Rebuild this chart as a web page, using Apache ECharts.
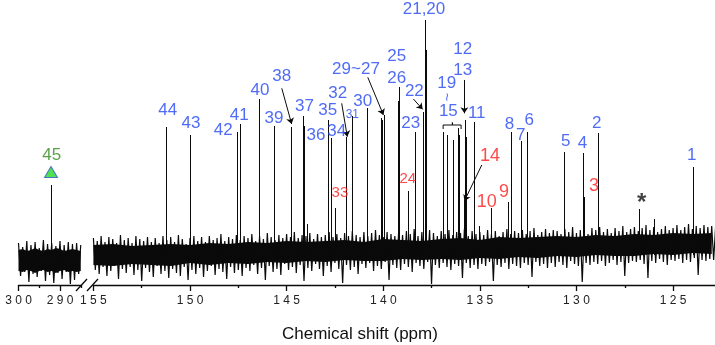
<!DOCTYPE html>
<html>
<head>
<meta charset="utf-8">
<script src="https://cdn.jsdelivr.net/npm/echarts@6/dist/echarts.min.js"></script>
<style>
html, body { margin: 0; padding: 0; background: #fff; }
#chart { width: 715px; height: 345px; }
</style>
</head>
<body>
<div id="chart"></div>
<script>
// peak positions (ppm) and peak heights (arbitrary intensity)
const peakShift = [151.21, 150.00, 147.58, 147.41, 146.43, 145.65, 144.74, 144.14, 144.07, 143.91,
  142.87, 142.67, 142.49, 141.89, 141.60, 140.85, 140.11, 140.04, 139.97, 139.22,
  139.18, 138.73, 138.32, 137.92, 137.82, 137.79, 136.89, 136.71, 136.37, 136.14,
  136.06, 135.80, 135.73, 135.68, 135.28, 135.04, 134.42, 133.52, 133.38, 132.88,
  132.57, 130.63, 129.64, 129.59, 128.87, 126.74, 125.98, 123.98];
const peakTop = [158, 150, 153, 161, 186, 159, 158, 169, 159, 61,
  165, 147, 77, 148, 169, 177, 167, 165, 170, 184,
  198, 94, 153, 173, 265, 235, 153, 150, 145, 157,
  150, 85, 165, 148, 163, 59, 77, 83, 153, 144,
  153, 133, 132, 88, 152, 76, 66, 118];
const peakBase = 30;

// carbonyl region (left panel)
const highShift = [292.17];
const highTop = [100];

// baseline noise, left panel: 300 -> 285 ppm every 0.5 ppm
const noiseHighStart = 300, noiseHighStep = 0.5;
const noiseHigh = [42, 9, 38, 13, 44, 3, 40, 11, 43, 8, 37, 14, 45, 4, 41, 10, 42, 2, 39, 12,
  44, 6, 40, 13, 43, 1, 41, 5, 42, 11, 40];
// dense core of the noise band, left panel: 300 -> 285 ppm every 1 ppm
const coreHighHi = [35, 36, 34, 35, 37, 35, 34, 36, 35, 37, 36, 34, 35, 36, 35, 34];
const coreHighLo = [14, 13, 15, 14, 12, 14, 15, 13, 14, 12, 14, 15, 13, 14, 13, 14];

// baseline noise, right panel: 155 -> 122.8 ppm every 0.1 ppm
const noiseLowStart = 155, noiseLowStep = 0.1;
const noiseLow = [
  47, 15, 44, 11, 49, 18, 43, 9, 48, 14, 46, 19, 42, 6, 50, 16, 45, 12, 47, 18,
  42, 10, 49, 15, 46, 4, 44, 17, 48, 13, 43, 8, 47, 19, 42, 11, 49, 14, 45, 7,
  48, 16, 43, 12, 50, 9, 46, 18, 41, 5, 47, 15, 49, 11, 44, 17, 48, 8, 43, 14,
  49, 19, 45, 10, 47, 16, 51, 13, 44, 6, 48, 18, 46, 12, 50, 15, 45, 9, 49, 17,
  47, 14, 51, 20, 44, 11, 49, 17, 46, 5, 52, 19, 48, 13, 45, 16, 50, 10, 47, 21,
  51, 15, 48, 18, 53, 12, 47, 20, 50, 4, 49, 17, 52, 14, 46, 21, 51, 16, 48, 9,
  50, 19, 53, 13, 48, 22, 51, 16, 47, 2, 52, 20, 49, 15, 54, 18, 50, 11, 48, 21,
  53, 17, 49, 22, 52, 14, 55, 19, 50, 16, 48, 23, 53, 5, 51, 20, 49, 17, 54, 15,
  50, 21, 54, 18, 51, 13, 56, 22, 49, 19, 53, 16, 50, 23, 55, 1, 52, 20, 49, 17,
  54, 22, 51, 18, 55, 15, 50, 21, 53, 19, 52, 7, 56, 22, 49, 17, 54, 20, 51, 16,
  53, 21, 50, 19, 55, 23, 51, 4, 54, 20, 49, 18, 53, 22, 56, 16, 51, 21, 54, 19,
  52, 17, 55, 22, 51, 20, 54, 8, 57, 23, 50, 19, 53, 21, 56, 17, 52, 22, 55, 18,
  54, 23, 51, 20, 56, 17, 53, 24, 58, 21, 52, 19, 55, 3, 54, 22, 51, 20, 57, 23,
  55, 21, 58, 24, 53, 19, 56, 22, 52, 25, 57, 20, 54, 23, 59, 9, 53, 22, 56, 24,
  58, 23, 54, 25, 57, 21, 60, 7, 55, 24, 58, 22, 53, 26, 56, 23, 59, 20, 55, 25,
  57, 24, 60, 26, 55, 22, 58, 25, 61, 23, 56, 27, 59, 10, 57, 25, 60, 24, 58, 26,
  59, 25, 58];
// dense core of the noise band, right panel: 155 -> 123 ppm every 1 ppm
const coreLowHi = [40, 41, 39, 40, 41, 40, 42, 41, 43, 42, 44, 43, 44, 45, 43, 46, 45, 44, 46, 47,
  45, 48, 47, 48, 49, 48, 50, 49, 51, 50, 52, 51, 52];
const coreLowLo = [20, 19, 21, 20, 19, 22, 20, 22, 21, 23, 22, 24, 23, 25, 24, 24, 26, 25, 26, 25,
  27, 26, 28, 27, 29, 28, 30, 29, 29, 31, 30, 32, 31];

// peak labels: [text, ppm, height]
const blueLabels = [['44', 151.15, 175], ['43', 149.95, 161.7], ['42', 148.28, 155], ['41', 147.45, 170],
  ['40', 146.38, 195], ['39', 145.65, 166.7], ['38', 145.25, 208.3], ['37', 144.08, 178.3],
  ['36', 143.48, 150], ['35', 142.87, 175], ['34', 142.41, 154], ['32', 142.36, 191.7],
  ['30', 141.06, 184], ['29~27', 141.41, 216], ['25', 139.30, 228.3], ['26', 139.30, 206.7],
  ['23', 138.58, 161.7], ['22', 138.39, 193.3], ['21,20', 137.89, 275.7], ['19', 136.71, 201.7],
  ['15', 136.63, 173.3], ['12', 135.89, 235.7], ['13', 135.89, 214.3], ['11', 135.16, 171.7],
  ['8', 133.47, 161], ['7', 132.88, 150], ['6', 132.44, 164.3], ['5', 130.55, 143.3],
  ['4', 129.69, 141.7], ['2', 128.95, 161.7], ['1', 124.03, 130]];
const blueSmall = [['31', 141.60, 170]];
const tildeMark = [['~', 136.63, 188]];
const redLabels = [['14', 134.47, 129], ['10', 134.64, 83.3], ['9', 133.75, 93.3], ['3', 129.09, 99]];
const redSmall = [['33', 142.24, 91.7], ['24', 138.73, 105.7]];
const starMark = [['*', 126.62, 82]];
const greenLabels = [['45', 292.0, 130]];
const triangleMark = [[292.17, 113]];

// arrows: [fromPpm, fromHeight, toPpm, toHeight]
const arrows = [[145.25, 196.7, 144.74, 161], [142.15, 181.7, 141.86, 148.3],
  [140.80, 207.7, 139.99, 170], [138.44, 186, 137.96, 175.7],
  [135.80, 205, 135.80, 171.7], [134.90, 120, 135.80, 84]];
// bracket over peaks 15~19
const bracket = [[136.90, 156], [136.90, 160], [136.42, 160], [136.42, 162.5], [136.42, 160], [135.97, 160], [135.97, 156]];

const highMajor = [300, 290];
const highMinor = [295, 285];
const lowMajor = [155, 150, 145, 140, 135, 130, 125];
const lowMinor = [152.5, 147.5, 142.5, 137.5, 132.5, 127.5];

const FONT = 'Liberation Sans, Arial, sans-serif';
const BLUE = '#2446f2';
const RED = '#ff1a1a';
const GREEN = '#2f8a1c';
const INK = '#0a0a0a';

const chart = echarts.init(document.getElementById('chart'));

const spaced = v => String(v).split('').join(' ');

function xAxisPair(grid, min, max, major, minor) {
  return [{
    type: 'value', gridIndex: grid, min: min, max: max, inverse: true,
    axisLine: { show: true, lineStyle: { color: INK, width: 1.3 } },
    axisTick: { show: true, customValues: major, length: 6, lineStyle: { color: INK, width: 1.3 } },
    axisLabel: { show: true, customValues: major, formatter: spaced, margin: 10,
      fontSize: 12, color: '#222', fontFamily: FONT },
    splitLine: { show: false }
  }, {
    type: 'value', gridIndex: grid, min: min, max: max, inverse: true, position: 'bottom',
    axisLine: { show: false },
    axisTick: { show: true, customValues: minor, length: 3, lineStyle: { color: INK, width: 1.3 } },
    axisLabel: { show: false },
    splitLine: { show: false }
  }];
}

// filled band between two envelopes sampled every `step` ppm from `start`
function bandSeries(xi, yi, start, step, hi, lo) {
  return {
    type: 'custom', xAxisIndex: xi, yAxisIndex: yi, silent: true, z: 1,
    data: [0],
    renderItem: (params, api) => {
      const top = hi.map((v, i) => api.coord([start - i * step, v]));
      const bottom = lo.map((v, i) => api.coord([start - i * step, v])).reverse();
      return { type: 'polygon', shape: { points: top.concat(bottom) }, style: { fill: INK } };
    }
  };
}

function labelSeries(list, xi, yi, color, size, extra) {
  return {
    type: 'scatter', xAxisIndex: xi, yAxisIndex: yi, symbolSize: 0, silent: true, z: 5,
    data: list.map(d => ({ name: d[0], value: [d[1], d[2]] })),
    label: Object.assign({
      show: true, position: 'inside', formatter: p => p.name,
      color: color, fontSize: size, fontFamily: FONT
    }, extra || {})
  };
}

chart.setOption({
  animation: false,
  title: {
    text: 'Chemical shift (ppm)', left: 277, top: 321,
    textStyle: { fontSize: 17, fontWeight: 'normal', color: '#111', fontFamily: FONT }
  },
  grid: [
    { left: 18.5, width: 62.25, top: 0, height: 285 },
    { left: 93.4, right: 0, top: 0, height: 285 }
  ],
  xAxis: [].concat(
    xAxisPair(0, 285, 300, highMajor, highMinor),
    xAxisPair(1, 122.83, 155, lowMajor, lowMinor)
  ),
  yAxis: [
    { type: 'value', gridIndex: 0, min: 0, max: 285, show: false },
    { type: 'value', gridIndex: 1, min: 0, max: 285, show: false }
  ],
  graphic: [
    { type: 'line', shape: { x1: 76, y1: 291, x2: 87, y2: 279 }, style: { stroke: INK, lineWidth: 1.3 } },
    { type: 'line', shape: { x1: 87, y1: 291, x2: 98, y2: 279 }, style: { stroke: INK, lineWidth: 1.3 } }
  ],
  series: [
    bandSeries(0, 0, 300, 1, coreHighHi, coreHighLo),
    bandSeries(2, 1, 155, 1, coreLowHi, coreLowLo),
    {
      type: 'line', xAxisIndex: 0, yAxisIndex: 0, symbol: 'none', silent: true,
      lineStyle: { color: INK, width: 1.2 },
      data: noiseHigh.map((v, i) => [noiseHighStart - i * noiseHighStep, v])
    },
    {
      type: 'line', xAxisIndex: 2, yAxisIndex: 1, symbol: 'none', silent: true,
      lineStyle: { color: INK, width: 1.2 },
      data: noiseLow.map((v, i) => [+(noiseLowStart - i * noiseLowStep).toFixed(2), v])
    },
    {
      type: 'lines', coordinateSystem: 'cartesian2d', xAxisIndex: 0, yAxisIndex: 0, silent: true,
      lineStyle: { color: INK, width: 1, opacity: 1 },
      data: highShift.map((p, i) => ({ coords: [[p, peakBase], [p, highTop[i]]] }))
    },
    {
      type: 'lines', coordinateSystem: 'cartesian2d', xAxisIndex: 2, yAxisIndex: 1, silent: true,
      lineStyle: { color: INK, width: 1, opacity: 1 },
      data: peakShift.map((p, i) => ({ coords: [[p, peakBase], [p, peakTop[i]]] }))
    },
    {
      type: 'lines', coordinateSystem: 'cartesian2d', xAxisIndex: 2, yAxisIndex: 1, silent: true,
      symbol: ['none', 'arrow'], symbolSize: 6,
      lineStyle: { color: INK, width: 1, opacity: 1 },
      data: arrows.map(a => ({ coords: [[a[0], a[1]], [a[2], a[3]]] }))
    },
    {
      type: 'line', xAxisIndex: 2, yAxisIndex: 1, symbol: 'none', silent: true,
      lineStyle: { color: INK, width: 1 },
      data: bracket
    },
    {
      type: 'scatter', xAxisIndex: 0, yAxisIndex: 0, symbol: 'triangle', symbolSize: [13, 11], silent: true,
      itemStyle: { color: '#22dd22', borderColor: '#3355cc', borderWidth: 1 },
      data: triangleMark
    },
    labelSeries(blueLabels, 2, 1, BLUE, 17),
    labelSeries(blueSmall, 2, 1, BLUE, 12),
    labelSeries(tildeMark, 2, 1, BLUE, 15, { rotate: 90 }),
    labelSeries(redLabels, 2, 1, RED, 18),
    labelSeries(redSmall, 2, 1, RED, 15),
    labelSeries(starMark, 2, 1, '#111', 24, { fontWeight: 'bold' }),
    labelSeries(greenLabels, 0, 0, GREEN, 17)
  ]
});
</script>
</body>
</html>
